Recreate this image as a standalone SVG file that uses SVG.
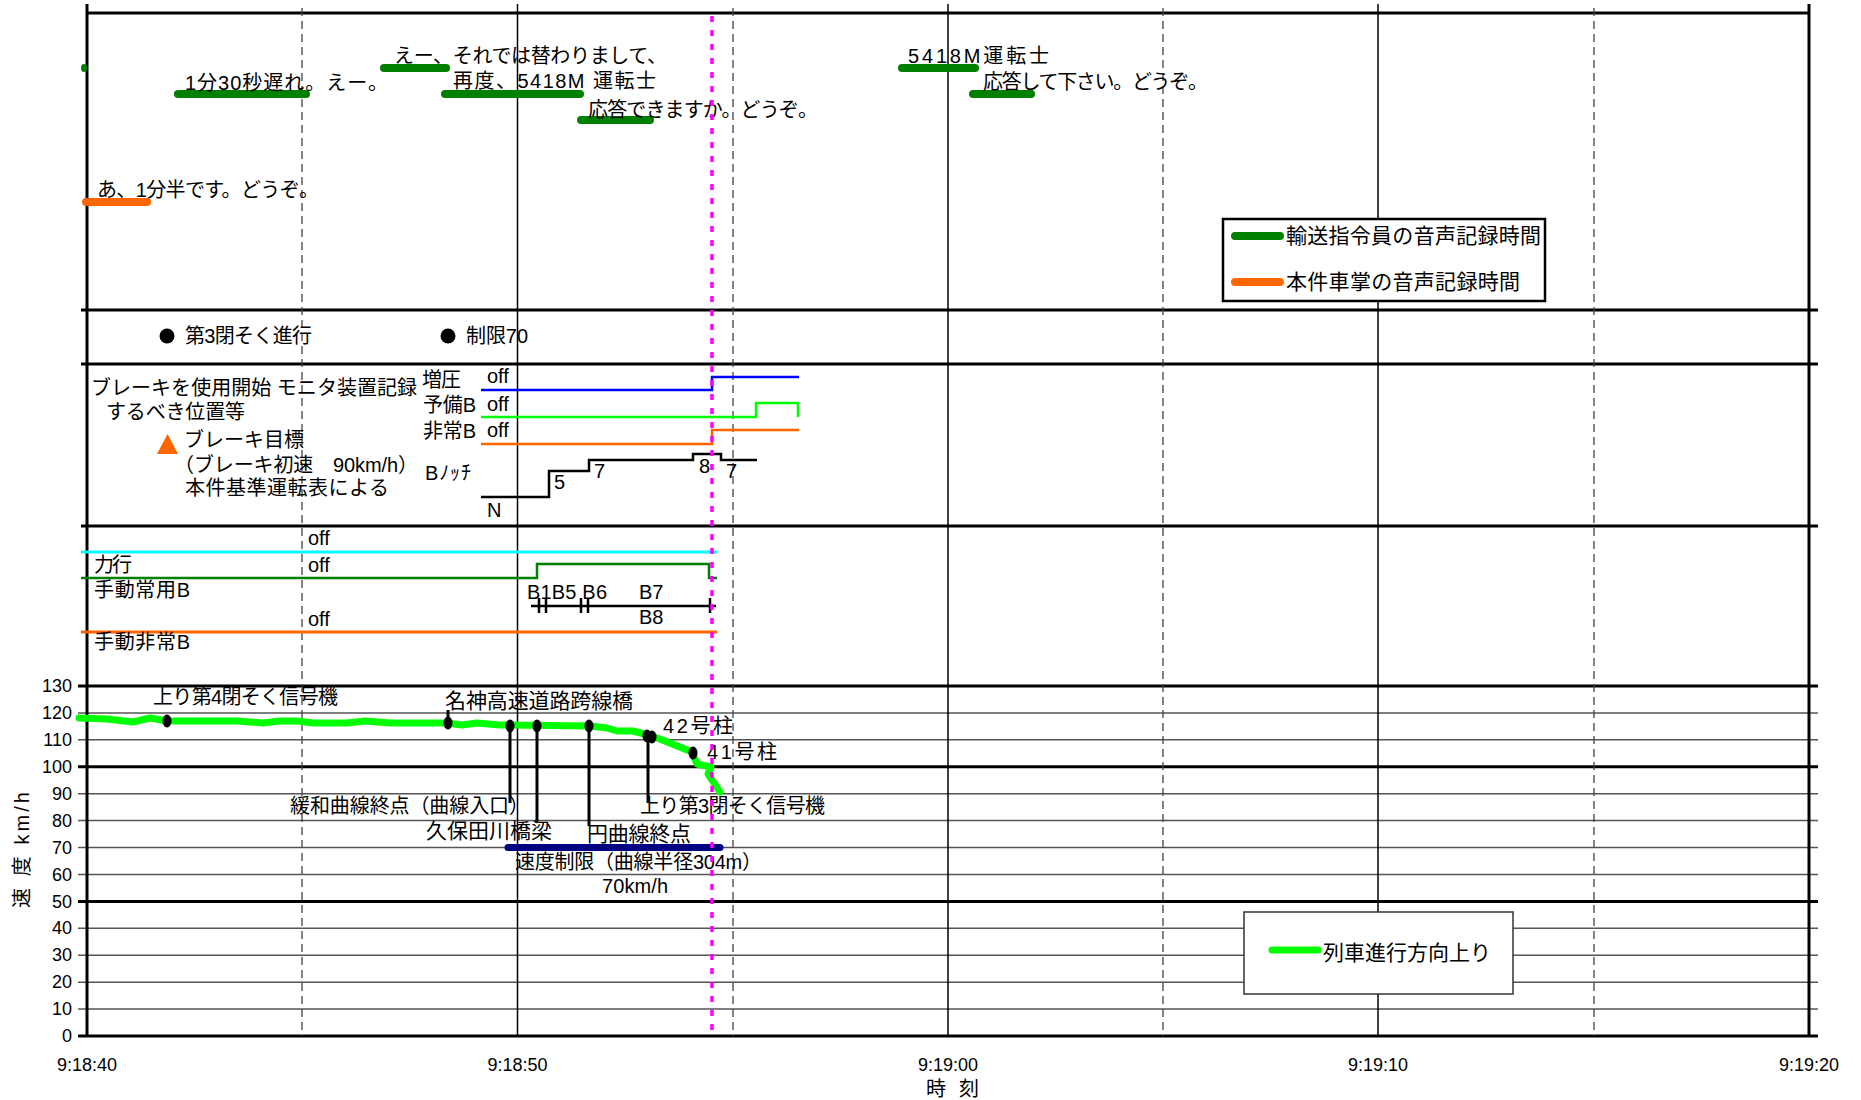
<svg xmlns="http://www.w3.org/2000/svg" width="1861" height="1100" viewBox="0 0 1861 1100">
<style>
text{font-family:"Liberation Sans","Noto Sans CJK JP",sans-serif;fill:#000}
.t19{font-size:20px}
.t20{font-size:21px}
.t21{font-size:21px}
.ax{font-size:18px}
.thick{stroke:#000;stroke-width:3;fill:none}
.thin{stroke:#000;stroke-width:1.5;fill:none}
.grid{stroke:#555;stroke-width:1.5}
.dash{stroke:#444;stroke-width:1.3;stroke-dasharray:8 5}
.vg{stroke:#008000;stroke-width:8;stroke-linecap:round}
.vo{stroke:#FF6600;stroke-width:8;stroke-linecap:round}
.sig{fill:none;stroke-width:2.5}
.leader{stroke:#000;stroke-width:3}
.mk{fill:#000}
</style>
<rect width="1861" height="1100" fill="#fff"/>

<g id="grid">
  <g class="grid">
    <line x1="78" y1="712.9" x2="1818" y2="712.9"/>
    <line x1="78" y1="739.8" x2="1818" y2="739.8"/>
    <line x1="78" y1="793.7" x2="1818" y2="793.7"/>
    <line x1="78" y1="820.6" x2="1818" y2="820.6"/>
    <line x1="78" y1="847.5" x2="1818" y2="847.5"/>
    <line x1="78" y1="874.5" x2="1818" y2="874.5"/>
    <line x1="78" y1="928.3" x2="1818" y2="928.3"/>
    <line x1="78" y1="955.2" x2="1818" y2="955.2"/>
    <line x1="78" y1="982.2" x2="1818" y2="982.2"/>
    <line x1="78" y1="1009.1" x2="1818" y2="1009.1"/>
  </g>
  <g class="thick">
    <line x1="78" y1="686" x2="1818" y2="686"/>
    <line x1="78" y1="766.8" x2="1818" y2="766.8"/>
    <line x1="78" y1="901.4" x2="1818" y2="901.4"/>
    <line x1="78" y1="1036" x2="1818" y2="1036"/>
    <line x1="81" y1="310" x2="1818" y2="310"/>
    <line x1="81" y1="364" x2="1818" y2="364"/>
    <line x1="81" y1="526" x2="1818" y2="526"/>
    <line x1="87" y1="13" x2="1809" y2="13"/>
    <line x1="87" y1="4" x2="87" y2="1036"/>
    <line x1="1809" y1="4" x2="1809" y2="1036"/>
  </g>
  <g class="thin">
    <line x1="517.5" y1="4" x2="517.5" y2="1036"/>
    <line x1="948" y1="4" x2="948" y2="1036"/>
    <line x1="1378" y1="4" x2="1378" y2="1036"/>
  </g>
  <g class="dash">
    <line x1="302" y1="8" x2="302" y2="1036"/>
    <line x1="733" y1="8" x2="733" y2="1036"/>
    <line x1="1163" y1="8" x2="1163" y2="1036"/>
    <line x1="1594" y1="8" x2="1594" y2="1036"/>
  </g>
</g>

<g id="voice-panel">
  <ellipse cx="84" cy="68" rx="3" ry="4" fill="#008000"/>
  <line class="vg" x1="384" y1="68" x2="446" y2="68"/>
  <line class="vg" x1="178" y1="94" x2="306" y2="94"/>
  <line class="vg" x1="445" y1="94" x2="580" y2="94"/>
  <line class="vg" x1="581" y1="120" x2="650" y2="120"/>
  <line class="vg" x1="902" y1="68" x2="975" y2="68"/>
  <line class="vg" x1="973" y1="94" x2="1031" y2="94"/>
  <line class="vo" x1="86" y1="202" x2="147" y2="202"/>
  <text class="t19" x="394" y="63" textLength="273" lengthAdjust="spacing">えー、それでは替わりまして、</text>
  <text class="t19" x="185" y="90" textLength="203" lengthAdjust="spacing">1分30秒遅れ。えー。</text>
  <text class="t19" x="453" y="88" textLength="203" lengthAdjust="spacing">再度、5418M 運転士</text>
  <text class="t19" x="588" y="117" textLength="230" lengthAdjust="spacing">応答できますか。どうぞ。</text>
  <text class="t19" x="908" y="63" textLength="141" lengthAdjust="spacing">5418M運転士</text>
  <text class="t19" x="983" y="89" textLength="225" lengthAdjust="spacing">応答して下さい。どうぞ。</text>
  <text class="t19" x="97" y="197" textLength="222" lengthAdjust="spacing">あ、1分半です。どうぞ。</text>
</g>

<g id="legend-voice">
  <rect x="1223" y="219" width="322" height="82" fill="#fff" stroke="#000" stroke-width="2.5"/>
  <line class="vg" x1="1235" y1="236" x2="1280" y2="236"/>
  <line class="vo" x1="1235" y1="282" x2="1280" y2="282"/>
  <text class="t21" x="1286" y="243" textLength="255" lengthAdjust="spacing">輸送指令員の音声記録時間</text>
  <text class="t21" x="1286" y="289" textLength="234" lengthAdjust="spacing">本件車掌の音声記録時間</text>
</g>

<g id="signal-row">
  <circle cx="167" cy="336" r="7.5"/>
  <text class="t19" x="185" y="343" textLength="127" lengthAdjust="spacing">第3閉そく進行</text>
  <circle cx="448" cy="336" r="7.5"/>
  <text class="t19" x="466" y="343" textLength="62" lengthAdjust="spacing">制限70</text>
</g>

<g id="brake-panel">
  <text class="t19" x="91" y="395" textLength="326" lengthAdjust="spacing">ブレーキを使用開始 モニタ装置記録</text>
  <text class="t19" x="106" y="419" textLength="139" lengthAdjust="spacing">するべき位置等</text>
  <polygon points="167.5,434 157,454 178,454" fill="#FF6600"/>
  <text class="t19" x="184" y="447" textLength="120" lengthAdjust="spacing">ブレーキ目標</text>
  <text class="t19" x="174" y="472" textLength="244" lengthAdjust="spacing">（ブレーキ初速　90km/h）</text>
  <text class="t19" x="185" y="495" textLength="204" lengthAdjust="spacing">本件基準運転表による</text>
  <text class="t19" x="422" y="387" textLength="39" lengthAdjust="spacing">増圧</text>
  <text class="t19" x="423" y="412" textLength="53" lengthAdjust="spacing">予備B</text>
  <text class="t19" x="423" y="438" textLength="53" lengthAdjust="spacing">非常B</text>
  <text class="t19" x="425" y="480" textLength="46" lengthAdjust="spacing">Bﾉｯﾁ</text>
  <text class="t19" x="487" y="383">off</text>
  <text class="t19" x="487" y="411">off</text>
  <text class="t19" x="487" y="437">off</text>
  <polyline class="sig" stroke="#0000FF" points="481,390 712,390 712,377 799,377"/>
  <polyline class="sig" stroke="#00FF00" points="481,417 756,417 756,403 798,403 798,417"/>
  <polyline class="sig" stroke="#FF6600" points="481,444 712,444 712,430 799,430"/>
  <polyline class="sig" stroke="#000" points="481,497 549,497 549,471 589,471 589,460 693,460 693,454 721,454 721,460 757,460"/>
  <text class="t19" x="487" y="517">N</text>
  <text class="t19" x="554" y="489">5</text>
  <text class="t19" x="594" y="478">7</text>
  <text class="t19" x="699" y="473">8</text>
  <text class="t19" x="726" y="478">7</text>
</g>

<g id="power-panel">
  <line stroke="#00FFFF" stroke-width="3" x1="81" y1="552" x2="717" y2="552"/>
  <polyline class="sig" stroke="#008000" stroke-width="3" points="81,578 537,578 537,564 709,564 709,578 717,578"/>
  <line stroke="#FF6600" stroke-width="3" x1="81" y1="632" x2="717" y2="632"/>
  <text class="t19" x="308" y="545">off</text>
  <text class="t19" x="308" y="572">off</text>
  <text class="t19" x="308" y="626">off</text>
  <text class="t19" x="94" y="572" textLength="38" lengthAdjust="spacing">力行</text>
  <text class="t19" x="94" y="597" textLength="96" lengthAdjust="spacing">手動常用B</text>
  <text class="t19" x="94" y="649" textLength="96" lengthAdjust="spacing">手動非常B</text>
  <g stroke="#000" stroke-width="2.5">
    <line x1="531" y1="606" x2="716" y2="606"/>
    <line x1="539" y1="598" x2="539" y2="613"/>
    <line x1="546" y1="598" x2="546" y2="613"/>
    <line x1="581" y1="598" x2="581" y2="613"/>
    <line x1="588" y1="598" x2="588" y2="613"/>
    <line x1="710" y1="598" x2="710" y2="613"/>
  </g>
  <text class="t19" x="527" y="599" textLength="80" lengthAdjust="spacing">B1B5 B6</text>
  <text class="t19" x="639" y="599">B7</text>
  <text class="t19" x="639" y="624">B8</text>
</g>

<g id="speed-panel">
  <polyline fill="none" stroke="#00FF00" stroke-width="7" stroke-linejoin="round" stroke-linecap="round" points="79,718 107,719 133,722 150,718 167,721 237,721 263,723 280,721 297,721 313,723 347,723 365,721 390,723 447,723 462,725 477,723 500,725 590,726 607,728 617,731 633,731 648,735 660,739 692,752 697,764 711,767 708,774 720,792"/>
  <line stroke="#000080" stroke-width="7" stroke-linecap="round" x1="508" y1="847.5" x2="720" y2="847.5"/>
  <g class="mk">
    <ellipse cx="167" cy="721" rx="4.5" ry="6.5"/>
    <ellipse cx="448" cy="723" rx="4.5" ry="6.5"/>
    <ellipse cx="510" cy="726" rx="4.5" ry="6.5"/>
    <ellipse cx="537" cy="726" rx="4.5" ry="6.5"/>
    <ellipse cx="589" cy="726" rx="4.5" ry="6.5"/>
    <ellipse cx="647" cy="736" rx="4.5" ry="6.5"/>
    <ellipse cx="652" cy="737" rx="4.5" ry="6.5"/>
    <ellipse cx="693" cy="753" rx="4.5" ry="6.5"/>
  </g>
  <text class="t19" x="153" y="704" textLength="185" lengthAdjust="spacing">上り第4閉そく信号機</text>
  <text class="t20" x="445" y="708" textLength="188" lengthAdjust="spacing">名神高速道路跨線橋</text>
  <text class="t19" x="663" y="733" textLength="70" lengthAdjust="spacing">42号柱</text>
  <text class="t19" x="707" y="759" textLength="70" lengthAdjust="spacing">41号柱</text>
  <text class="t19" x="290" y="813" textLength="239" lengthAdjust="spacing">緩和曲線終点（曲線入口）</text>
  <text class="t20" x="426" y="838" textLength="126" lengthAdjust="spacing">久保田川橋梁</text>
  <text class="t20" x="587" y="841" textLength="104" lengthAdjust="spacing">円曲線終点</text>
  <text class="t19" x="640" y="813" textLength="185" lengthAdjust="spacing">上り第3閉そく信号機</text>
  <text class="t19" x="515" y="869" textLength="247" lengthAdjust="spacing">速度制限（曲線半径304m）</text>
  <text class="t19" x="602" y="893" textLength="66" lengthAdjust="spacing">70km/h</text>
</g>

<g id="connectors">
  <line class="leader" x1="448" y1="710" x2="448" y2="723"/>
  <line class="leader" x1="510" y1="726" x2="510" y2="803"/>
  <line class="leader" x1="537" y1="726" x2="537" y2="823"/>
  <line class="leader" x1="589" y1="726" x2="589" y2="826"/>
  <line class="leader" x1="648" y1="736" x2="648" y2="803"/>
</g>

<g id="cursor">
  <line x1="712" y1="16" x2="712" y2="1036" stroke="#FF00FF" stroke-width="3.5" stroke-dasharray="6 8"/>
</g>

<g id="legend-speed">
  <rect x="1244" y="912" width="269" height="82" fill="#fff" stroke="#333" stroke-width="1.5"/>
  <line stroke="#00FF00" stroke-width="7" stroke-linecap="round" x1="1272" y1="950" x2="1318" y2="950"/>
  <text class="t21" x="1323" y="960" textLength="168" lengthAdjust="spacing">列車進行方向上り</text>
</g>

<g id="axes-labels" class="ax">
  <g text-anchor="end">
    <text x="72" y="692">130</text>
    <text x="72" y="719">120</text>
    <text x="72" y="746">110</text>
    <text x="72" y="773">100</text>
    <text x="72" y="800">90</text>
    <text x="72" y="827">80</text>
    <text x="72" y="854">70</text>
    <text x="72" y="881">60</text>
    <text x="72" y="908">50</text>
    <text x="72" y="934">40</text>
    <text x="72" y="961">30</text>
    <text x="72" y="988">20</text>
    <text x="72" y="1015">10</text>
    <text x="72" y="1042">0</text>
  </g>
  <g text-anchor="middle">
    <text x="87" y="1071">9:18:40</text>
    <text x="517.5" y="1071">9:18:50</text>
    <text x="948" y="1071">9:19:00</text>
    <text x="1378" y="1071">9:19:10</text>
    <text x="1809" y="1071">9:19:20</text>
  </g>
  <text x="926" y="1096" font-size="20" textLength="53" lengthAdjust="spacing">時 刻</text>
  <text transform="translate(29,908) rotate(-90)" font-size="20" textLength="116" lengthAdjust="spacing">速 度 km/h</text>
</g>
</svg>
